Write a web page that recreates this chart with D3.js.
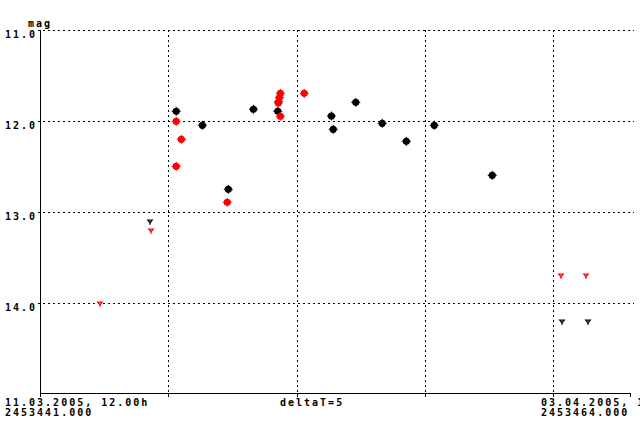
<!DOCTYPE html>
<html><head><meta charset="utf-8">
<script src="https://cdn.jsdelivr.net/npm/d3@7"></script>
<style>
body{margin:0;background:#fff;}
text{font-family:"DejaVu Sans Mono","Liberation Mono",monospace;font-weight:bold;font-size:10px;letter-spacing:2px;fill:#000;}
</style></head><body>
<svg id="c" width="640" height="424"></svg>
<script>
// ---- data ----
const blackJD  = [2453446.31,2453447.33,2453448.34,2453449.32,2453450.27,2453452.36,2453452.43,2453453.31,2453454.34,2453455.28,2453456.37,2453458.63];
const blackMag = [11.893,12.047,12.751,11.871,11.893,11.945,12.091,11.795,12.025,12.223,12.047,12.597];
const redJD    = [2453446.31,2453446.51,2453446.31,2453448.30,2453450.37,2453450.33,2453450.30,2453450.29,2453450.37,2453451.30];
const redMag   = [12.003,12.201,12.498,12.893,11.696,11.742,11.786,11.802,11.948,11.696];
const blackLimJD  = [2453445.30,2453461.36,2453462.38];
const blackLimMag = [13.107,14.205,14.205];
const redLimJD    = [2453443.35,2453445.34,2453461.32,2453462.30];
const redLimMag   = [14.008,13.205,13.700,13.700];
const yTicks = [11.0,12.0,13.0,14.0];
const xGrid  = [2453446,2453451,2453456,2453461];
const xStart = 2453441, xEnd = 2453464;
const startLabel = ["11.03.2005, 12.00h","2453441.000"];
const endLabel   = ["03.04.2005, 12.00h","2453464.000"];
const deltaLabel = "deltaT=5";
const yTitle = "mag";

// ---- drawing ----
const svg = d3.select("#c");
const x = d3.scaleLinear().domain([xStart,xEnd]).range([40,630]);
const y = d3.scaleLinear().domain([11,15]).range([30,394]);

// horizontal grid
svg.selectAll(".hg").data(yTicks).enter().append("line")
  .attr("x1",38).attr("x2",634).attr("y1",d=>Math.round(y(d))+0.5).attr("y2",d=>Math.round(y(d))+0.5)
  .attr("stroke","#000").attr("stroke-width",1).attr("stroke-dasharray","2,3").attr("shape-rendering","crispEdges");
// vertical grid
svg.selectAll(".vg").data(xGrid).enter().append("line")
  .attr("x1",d=>Math.round(x(d))+0.5).attr("x2",d=>Math.round(x(d))+0.5).attr("y1",30).attr("y2",394)
  .attr("stroke","#000").attr("stroke-width",1).attr("stroke-dasharray","2,3").attr("shape-rendering","crispEdges");
// axes
svg.append("line").attr("x1",40.5).attr("x2",40.5).attr("y1",30).attr("y2",397).attr("stroke","#000").attr("shape-rendering","crispEdges");
svg.append("line").attr("x1",40).attr("x2",631).attr("y1",393.5).attr("y2",393.5).attr("stroke","#000").attr("shape-rendering","crispEdges");
svg.selectAll(".xt").data(xGrid.concat([xEnd])).enter().append("line")
  .attr("x1",d=>Math.round(x(d))+0.5).attr("x2",d=>Math.round(x(d))+0.5).attr("y1",393).attr("y2",397)
  .attr("stroke","#000").attr("shape-rendering","crispEdges");

// y labels
svg.selectAll(".yl").data(yTicks).enter().append("text")
  .attr("x",5).attr("y",d=>Math.round(y(d))+8).text(d=>d.toFixed(1));
svg.append("text").attr("x",28).attr("y",27).text(yTitle);
// x labels
startLabel.forEach((t,i)=>svg.append("text").attr("x",5).attr("y",406+i*10).text(t));
endLabel.forEach((t,i)=>svg.append("text").attr("x",541).attr("y",406+i*10).text(t));
svg.append("text").attr("x",280).attr("y",406).text(deltaLabel);

// markers
function dots(jd,mag,col){
  const g = svg.append("g");
  const d = jd.map((v,i)=>[v,mag[i]]);
  const m = g.selectAll("g").data(d).enter().append("g")
    .attr("transform",p=>`translate(${x(p[0])},${y(p[1])})`);
  m.append("circle").attr("r",3.6).attr("fill",col);
  m.append("path").attr("d","M-4.5,0H4.5M0,-4.5V4.5").attr("stroke",col).attr("stroke-width",1);
}
function lims(jd,mag,col){
  const g = svg.append("g");
  const d = jd.map((v,i)=>[v,mag[i]]);
  const m = g.selectAll("g").data(d).enter().append("g")
    .attr("transform",p=>`translate(${Math.round(x(p[0]))},${Math.round(y(p[1]))})`);
  m.append("path").attr("d","M-3.5,-2.5H3.5L0,2Z").attr("fill",col);
  m.append("rect").attr("x",-0.5).attr("y",-1.5).attr("width",1).attr("height",1).attr("fill","#fff");
  m.append("rect").attr("x",-0.5).attr("y",1).attr("width",1).attr("height",2).attr("fill",col);
}
dots(blackJD,blackMag,"#000");
dots(redJD,redMag,"#ff0000");
lims(blackLimJD,blackLimMag,"#000");
lims(redLimJD,redLimMag,"#ff0000");
</script></body></html>
